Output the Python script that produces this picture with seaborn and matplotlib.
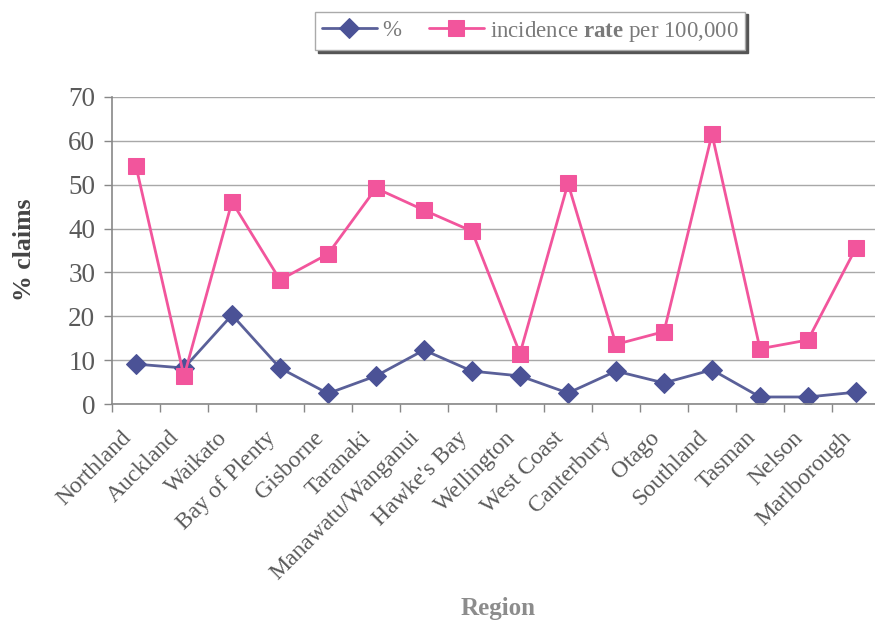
import matplotlib
matplotlib.use("Agg")
import matplotlib.pyplot as plt
import matplotlib.transforms as mtransforms
import seaborn as sns
import pandas as pd
import numpy as np
from matplotlib.ticker import FixedLocator

regions = ["Northland", "Auckland", "Waikato", "Bay of Plenty", "Gisborne", "Taranaki",
           "Manawatu/Wanganui", "Hawke's Bay", "Wellington", "West Coast", "Canterbury",
           "Otago", "Southland", "Tasman", "Nelson", "Marlborough"]
pct_claims = [9.1, 8.2, 20.3, 8.2, 2.4, 6.4, 12.3, 7.5, 6.4, 2.5, 7.5, 4.8, 7.8, 1.6, 1.6, 2.7]
incidence_rate = [54.2, 6.3, 46.1, 28.3, 34.2, 49.2, 44.2, 39.4, 11.5, 50.3, 13.6, 16.5,
                  61.5, 12.6, 14.6, 35.6]
y_ticks = [0, 10, 20, 30, 40, 50, 60, 70]

sns.set_theme(style="white")
plt.rcParams["font.family"] = ["Liberation Serif", "DejaVu Serif"]
plt.rcParams["mathtext.fontset"] = "custom"
plt.rcParams["mathtext.rm"] = "Liberation Serif"
plt.rcParams["mathtext.bf"] = "Liberation Serif:bold"

blue = "#4b5296"
blue_line = "#5a6099"
pink = "#f2559c"
text_grey = "#5a5a5a"

df = pd.DataFrame({"x": np.arange(len(regions)), "region": regions,
                   "pct": pct_claims, "rate": incidence_rate})

fig = plt.figure(figsize=(8.75, 6.25), dpi=100)
ax = fig.add_axes([112 / 875, 221 / 625, 768 / 875, 307 / 625])

sns.lineplot(data=df, x="x", y="pct", ax=ax, color=blue_line, lw=2,
             marker="D", markersize=10, markerfacecolor=blue, markeredgecolor=blue,
             label="%")
sns.lineplot(data=df, x="x", y="rate", ax=ax, color=pink, lw=2,
             marker="s", markersize=12, markerfacecolor=pink, markeredgecolor=pink,
             label=r"incidence $\mathbf{rate}$ per 100,000")

ax.set_xlim(-0.5, len(regions) - 0.5)
ax.set_ylim(0, 70)
ax.set_yticks(y_ticks)
ax.set_yticklabels([str(t) for t in y_ticks], fontsize=19.5, color=text_grey)
ax.yaxis.grid(True, color="#a8a8a8", lw=1)
ax.xaxis.grid(False)

ax.set_xticks(df["x"])
ax.set_xticklabels(regions, rotation=45, ha="right", va="center", rotation_mode="anchor",
                   fontsize=17, color=text_grey)
ax.xaxis.set_minor_locator(FixedLocator(np.arange(-0.5, len(regions), 1.0)))
ax.tick_params(axis="x", which="major", length=0, pad=22)
ax.tick_params(axis="x", which="minor", length=6, color="#888888", width=1, bottom=True)
ax.tick_params(axis="y", which="major", length=6, color="#888888", width=1, left=True, pad=6)

# nudge the slanted region names a little to the left of their category centres
shift = mtransforms.ScaledTranslation(-8 / 100, 0, fig.dpi_scale_trans)
for lbl in ax.get_xticklabels():
    lbl.set_transform(lbl.get_transform() + shift)

for side in ["top", "right"]:
    ax.spines[side].set_visible(False)
for side in ["left", "bottom"]:
    ax.spines[side].set_color("#888888")
    ax.spines[side].set_linewidth(1.2)

ax.set_xlabel("")
ax.set_ylabel("")
fig.text(25 / 875, 1 - 250 / 625, "% claims", rotation=90, ha="center", va="center",
         fontsize=18.5, fontweight="bold", color="#444444")
fig.text(498 / 875, 1 - 608 / 625, "Region", ha="center", va="center",
         fontsize=18, fontweight="bold", color="#8c8c8c")

leg = ax.legend(loc="center", bbox_to_anchor=(530 / 875, 1 - 31 / 625),
                bbox_transform=fig.transFigure, ncol=2, fontsize=16.5,
                frameon=True, fancybox=False, shadow={"color": "#555555", "alpha": 1},
                handlelength=2.4, columnspacing=1.2, handletextpad=0.25,
                borderpad=0.3, borderaxespad=0.2)
leg.get_frame().set_edgecolor("#aaaaaa")
leg.get_frame().set_linewidth(1)
for t in leg.get_texts():
    t.set_color("#7a7a7a")

fig.savefig("out.png", dpi=100, facecolor="white")
